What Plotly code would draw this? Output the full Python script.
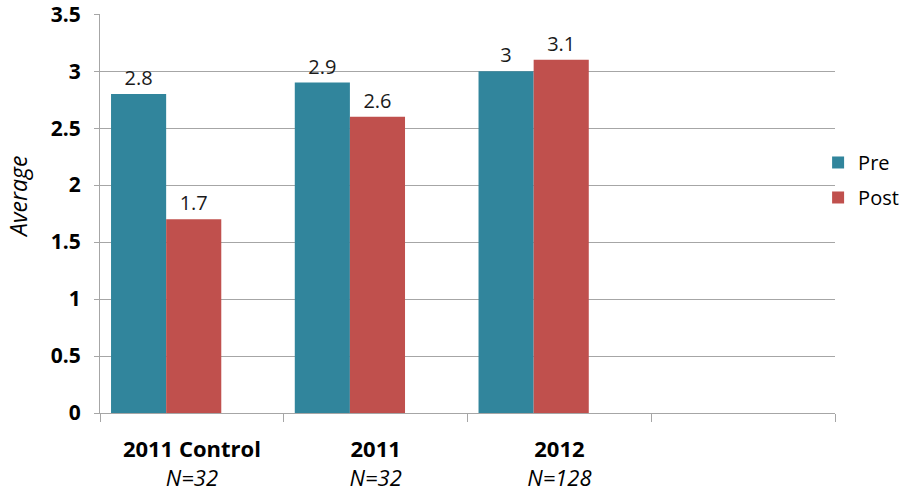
import plotly.graph_objects as go

categories = ["2011 Control", "2011", "2012"]
sample_sizes = ["N=32", "N=32", "N=128"]
pre_values = [2.8, 2.9, 3.0]
post_values = [1.7, 2.6, 3.1]
y_ticks = [0, 0.5, 1, 1.5, 2, 2.5, 3, 3.5]
y_tick_labels = ["0", "0.5", "1", "1.5", "2", "2.5", "3", "3.5"]

FONT = "Open Sans"
x_pos = list(range(len(categories)))
tick_text = [f"<b>{c}</b><br><i>{n}</i>" for c, n in zip(categories, sample_sizes)]

fig = go.Figure()
fig.add_trace(go.Bar(
    name="Pre", legendgroup="pre", x=x_pos, y=pre_values, width=0.30, offset=-0.44,
    marker=dict(color="#31859C", line=dict(width=0)),
    text=[f"{v:g}" for v in pre_values], textposition="outside",
    textfont=dict(size=20, color="#1a1a1a", family=FONT), cliponaxis=False,
))
fig.add_trace(go.Bar(
    name="Post", legendgroup="post", x=x_pos, y=post_values, width=0.30, offset=-0.14,
    marker=dict(color="#C0504D", line=dict(width=0)),
    text=[f"{v:g}" for v in post_values], textposition="outside",
    textfont=dict(size=20, color="#1a1a1a", family=FONT), cliponaxis=False,
))

fig.update_layout(
    width=905, height=496,
    margin=dict(l=100, r=70, t=14, b=83, autoexpand=False),
    paper_bgcolor="white", plot_bgcolor="white",
    font=dict(family=FONT, color="black"),
    barmode="overlay",
    showlegend=True,
    legend=dict(x=0.977, xanchor="left", y=0.584, yanchor="middle",
                font=dict(size=20, family=FONT), itemwidth=30,
                tracegroupgap=6, bgcolor="rgba(0,0,0,0)"),
    xaxis=dict(
        range=[-0.5, 3.5], tickmode="array", tickvals=x_pos, ticktext=tick_text,
        ticks="", showgrid=False, zeroline=False, automargin=False,
        showline=True, linecolor="#A6A6A6", linewidth=1,
        tickfont=dict(size=22, family=FONT, color="black"),
        ticklabelstandoff=17,
        minor=dict(tick0=-0.5, dtick=1, ticks="outside", ticklen=8,
                   tickcolor="#A6A6A6", showgrid=False),
    ),
    yaxis=dict(
        range=[0, 3.502], tickmode="array", tickvals=y_ticks, ticktext=y_tick_labels,
        ticks="outside", ticklen=5, tickcolor="#A6A6A6", automargin=False,
        showgrid=True, gridcolor="#A6A6A6", gridwidth=1,
        zeroline=False, showline=True, linecolor="#A6A6A6", linewidth=1,
        tickfont=dict(size=21, family=FONT, color="black", weight="bold"),
        ticklabelstandoff=9, ticklabeloverflow="allow",
    ),
    annotations=[dict(
        text="<i>Average</i>", textangle=-90, showarrow=False,
        xref="paper", yref="paper", x=-0.1116, y=0.5414,
        xanchor="center", yanchor="middle",
        font=dict(size=23, family=FONT, color="black"),
    )],
)
fig.write_html("out.html", config={"displayModeBar": False},
               post_script="document.body.style.margin='0';")
